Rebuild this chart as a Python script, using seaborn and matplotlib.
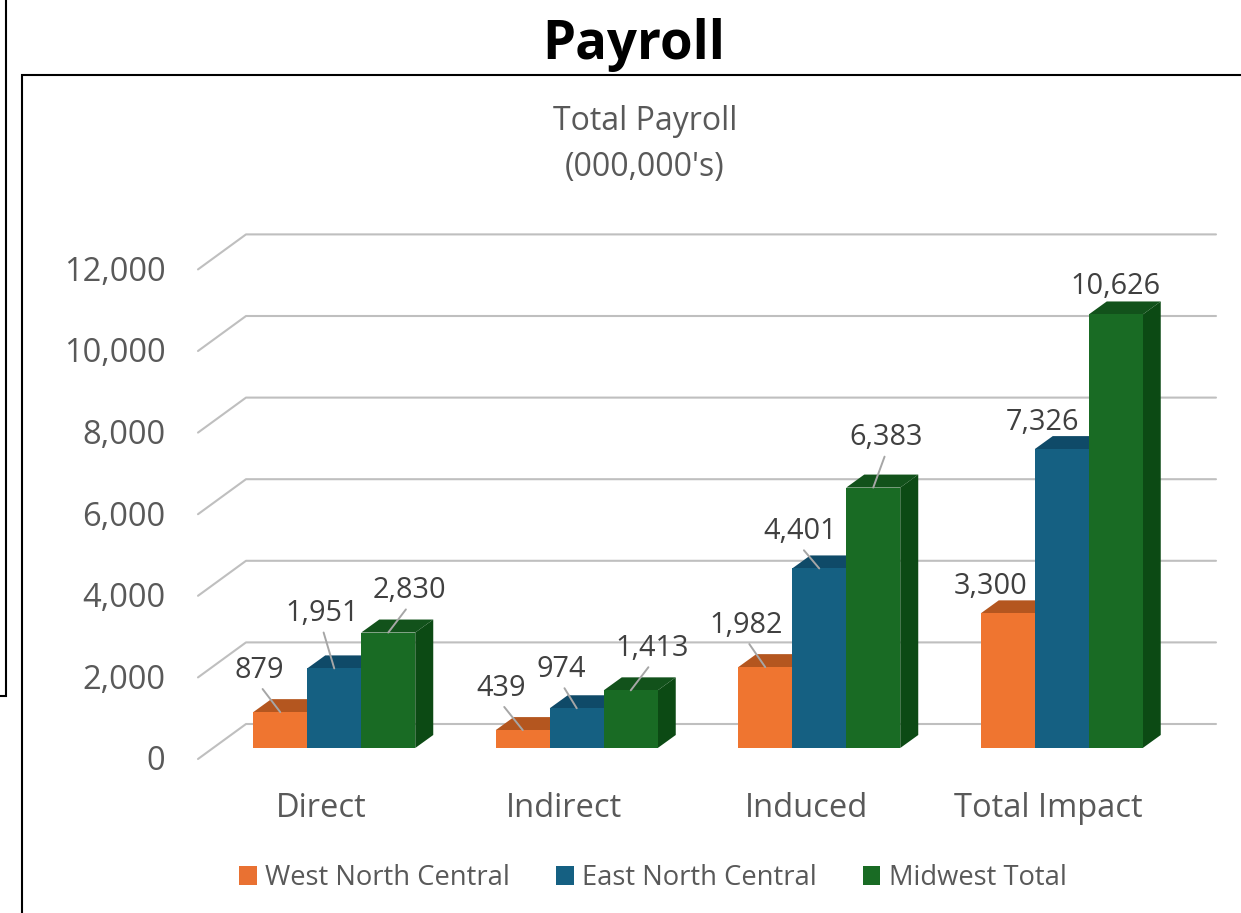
import matplotlib
matplotlib.use("Agg")
import matplotlib.pyplot as plt
import seaborn as sns
import pandas as pd
from matplotlib.lines import Line2D
from matplotlib.patches import Polygon
from matplotlib.transforms import Affine2D, IdentityTransform

categories = ["Direct", "Indirect", "Induced", "Total Impact"]
series_names = ["West North Central", "East North Central", "Midwest Total"]
west_north_central = [879, 439, 1982, 3300]
east_north_central = [1951, 974, 4401, 7326]
midwest_total = [2830, 1413, 6383, 10626]
y_ticks = [0, 2000, 4000, 6000, 8000, 10000, 12000]

W, H = 1241, 913
colors = ["#EF7530", "#156082", "#196B24"]
legend_colors = ["#E97132", "#156082", "#196B24"]
tops = ["#B4561F", "#0F4A68", "#12521B"]
sides = ["#B4561F", "#0F4A68", "#0C4A14"]
text_col = "#595959"
grid_col = "#BFBFBF"

# label placement relative to the top of the bar's front face, in pixels (dx, dy up)
label_off = {
    0: [(-21, 42), (-22, 42), (-19, 42), (-17, 27)],
    1: [(-12, 55), (-15, 39), (-19, 37), (-19, 27)],
    2: [(21, 42), (21, 42), (13, 50), (0, 28)],
}
with_leader = [True, True, True, False]

sns.set_theme(style="white")
plt.rcParams["font.family"] = ["Open Sans", "DejaVu Sans"]

df = pd.DataFrame({
    "category": categories * 3,
    "series": sum([[s] * 4 for s in series_names], []),
    "value": west_north_central + east_north_central + midwest_total,
})

fig = plt.figure(figsize=(W / 100, H / 100), dpi=100, facecolor="white")

# the axes sit in the plane of the bars' front faces
ax_l, ax_r, ax_b, ax_t = 213, 1183, 748, 258.4
ax = fig.add_axes([ax_l / W, 1 - ax_b / H, (ax_r - ax_l) / W, (ax_b - ax_t) / H])
ax.patch.set_alpha(0)

sns.barplot(data=df, x="category", y="value", hue="series", order=categories,
            hue_order=series_names, palette=colors, width=0.668, gap=0,
            saturation=1, ax=ax, zorder=3, linewidth=0)

ax.set_xlim(-0.5, 3.5)
ax.set_ylim(0, 12000)
ax.set_xlabel("")
ax.set_ylabel("")
sns.despine(ax=ax, left=True, bottom=True)
ax.set_yticks(y_ticks)
ax.set_yticklabels([f"{v:,}" for v in y_ticks])
ax.tick_params(axis="both", length=0, colors=text_col, labelsize=23.5)
ax.tick_params(axis="y", pad=23.5)
ax.tick_params(axis="x", pad=32)

FX, FY = -15, -11   # front of the floor, from the bar plane
BX, BY = 33, 24     # back wall, from the bar plane
DX, DY = 18, 13     # bar depth

for t in ax.get_yticklabels():
    t.set_transform(t.get_transform() + Affine2D().translate(FX, FY + 1))
for t in ax.get_xticklabels():
    t.set_transform(t.get_transform() + Affine2D().translate(-13, 0))

identity = IdentityTransform()
x0_disp = ax.transAxes.transform((0, 0))[0]
x1_disp = ax.transAxes.transform((1, 0))[0]

# gridlines on the back wall and the floor-side diagonals
for v in y_ticks:
    y = ax.transData.transform((0, v))[1]
    ax.add_line(Line2D([x0_disp + FX, x0_disp + BX, x1_disp + BX],
                       [y + FY, y + BY, y + BY], transform=identity,
                       color=grid_col, lw=1.5, clip_on=False, zorder=1))

# 3D depth of each bar, from the bars that seaborn drew
for i, container in enumerate(ax.containers):
    for j, patch in enumerate(container):
        x0, x1 = patch.get_x(), patch.get_x() + patch.get_width()
        h = patch.get_height()
        (xa, ya), (xb, yb) = ax.transData.transform([(x0, 0), (x1, h)])
        ax.add_patch(Polygon([(xa, yb), (xb, yb), (xb + DX, yb + DY), (xa + DX, yb + DY)],
                             transform=identity, facecolor=tops[i], edgecolor="none",
                             clip_on=False, zorder=2.5))
        ax.add_patch(Polygon([(xb, ya), (xb + DX, ya + DY), (xb + DX, yb + DY), (xb, yb)],
                             transform=identity, facecolor=sides[i], edgecolor="none",
                             clip_on=False, zorder=2.5))
        dx, dy = label_off[i][j]
        arrow = dict(arrowstyle="-", color="#A6A6A6", lw=1.4, shrinkA=1, shrinkB=0,
                     relpos=(0.5, 0)) if with_leader[j] else None
        ax.annotate(f"{h:,.0f}", xy=((x0 + x1) / 2, h), xycoords="data",
                    xytext=(dx, dy), textcoords="offset pixels", ha="center", va="center",
                    fontsize=20.8, color="#404040", arrowprops=arrow, zorder=5,
                    annotation_clip=False)

# legend
handles, labels = ax.get_legend_handles_labels()
leg = ax.legend(handles, labels, loc="center left", ncol=3, frameon=False,
                bbox_to_anchor=(239 / W, 1 - 878 / H), bbox_transform=fig.transFigure,
                fontsize=19.7, labelcolor=text_col, handlelength=0.65, handleheight=0.65,
                handletextpad=0.3, columnspacing=1.68, borderaxespad=0, borderpad=0)
for h, c in zip(leg.legend_handles, legend_colors):
    h.set_facecolor(c)

# titles
ax.set_title("Total Payroll\n(000,000's)", x=(645 - ax_l) / (ax_r - ax_l),
             y=(ax_b - 153) / (ax_b - ax_t), va="center", fontsize=23,
             color=text_col, linespacing=1.52)
fig.suptitle("Payroll", x=633.5 / W, y=1 - 45 / H, va="center", fontsize=38,
             fontweight="bold", color="black")

# panel frames
for xs, ys in [([6, 6, 0], [0, 695.5, 695.5]), ([22, 22, W], [H, 75, 75])]:
    fig.add_artist(Line2D([x / W for x in xs], [1 - y / H for y in ys],
                          transform=fig.transFigure, color="black", lw=1.5,
                          solid_joinstyle="miter"))

fig.savefig("out.png", dpi=100, facecolor="white")
